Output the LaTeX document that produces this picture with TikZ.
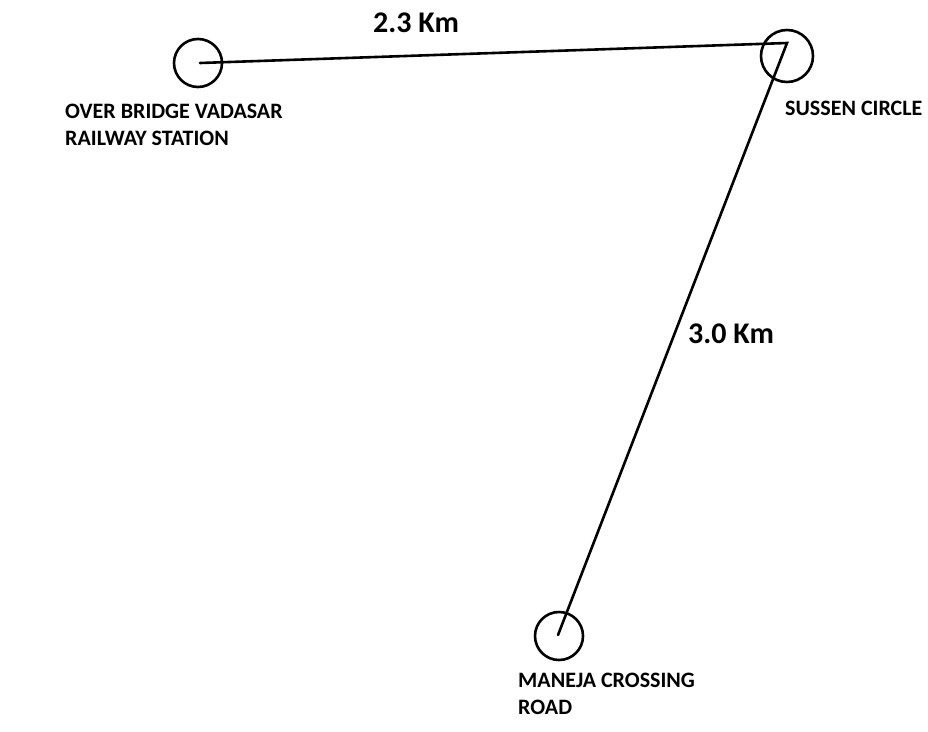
\documentclass[tikz,border=0pt]{standalone}
\usepackage{fontspec}
\setmainfont{Carlito}
\begin{document}
\begin{tikzpicture}[x=1pt,y=-1pt,
  stop/.style={circle,draw,line width=2.6pt,minimum size=48pt,inner sep=0pt},
  road/.style={line width=2.6pt,line cap=round},
  place/.style={anchor=base west,inner sep=0pt,font=\bfseries\fontsize{22}{27}\selectfont,align=left},
  dist/.style={anchor=base west,inner sep=0pt,font=\bfseries\fontsize{30}{34}\selectfont}]
  \useasboundingbox (0,0) rectangle (928,731);
  % stations
  \node[stop] (ob) at (198,63) {};
  \node[stop,minimum size=52pt] (sc) at (787,56) {};
  \node[stop] (mc) at (559,636) {};
  \coordinate (obpin) at (200,63);
  \coordinate (scpin) at (787,43);
  \coordinate (mcpin) at (558,635);
  % roads
  \draw[road] (obpin) -- (scpin) -- (mcpin);
  % labels (multi-line labels are placed by their last baseline)
  \node[place] (oblbl) at (65,145) {OVER BRIDGE VADASAR\\RAILWAY STATION};
  \node[place] (sclbl) at (785,115) {SUSSEN CIRCLE};
  \node[place] (mclbl) at (518,714) {MANEJA CROSSING\\ROAD};
  \node[dist] (d1) at (373,32) {2.3 Km};
  \node[dist] (d2) at (688,343) {3.0 Km};
\end{tikzpicture}
\end{document}
